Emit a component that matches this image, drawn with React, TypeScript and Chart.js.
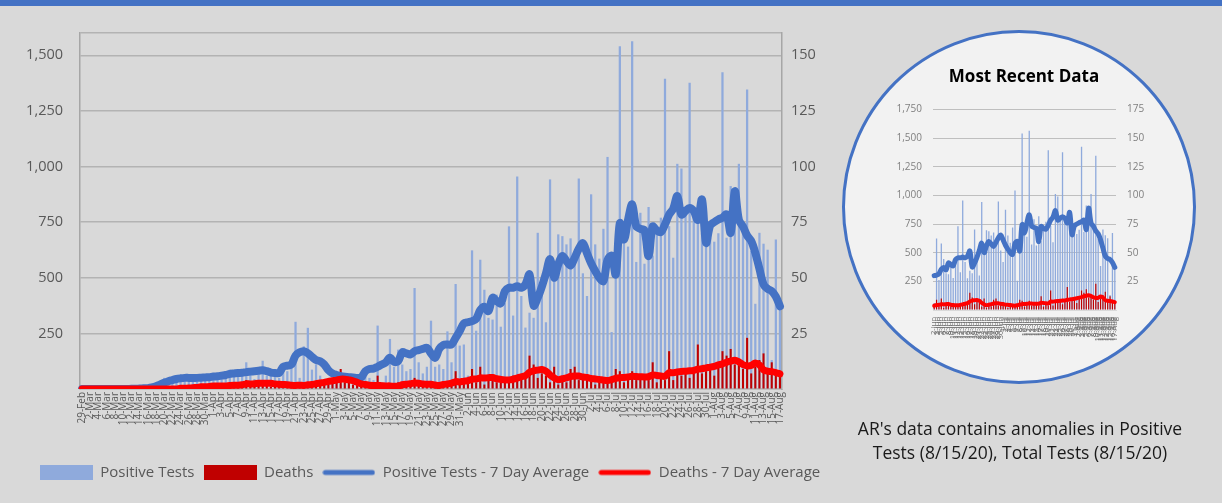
import React, { useEffect, useRef } from "react";
import { Chart, registerables } from "chart.js";

Chart.register(...registerables);

// ---------- categories ----------
const MONTH_SPANS: [string, number, number][] = [
  ["Feb", 29, 29],
  ["Mar", 1, 31],
  ["Apr", 1, 30],
  ["May", 1, 31],
  ["Jun", 1, 30],
  ["Jul", 1, 31],
  ["Aug", 1, 17],
];
const DATES: string[] = MONTH_SPANS.flatMap(([m, a, b]) =>
  Array.from({ length: b - a + 1 }, (_, k) => `${a + k}-${m}`)
);

// ---------- series (29-Feb .. 17-Aug) ----------
const POSITIVE_TESTS = [
  0, 0, 0, 0, 0, 0, 0, 0, 0, 0,
  0, 1, 5, 3, 3, 4, 6, 11, 13, 16,
  50, 22, 33, 30, 53, 62, 38, 45, 40, 50,
  47, 50, 60, 60, 58, 55, 87, 62, 64, 60,
  120, 70, 45, 65, 127, 60, 60, 55, 50, 90,
  80, 96, 302, 50, 192, 275, 87, 111, 60, 45,
  40, 30, 35, 25, 30, 40, 20, 30, 20, 55,
  50, 40, 285, 30, 60, 225, 100, 177, 110, 80,
  90, 454, 120, 70, 100, 307, 100, 110, 90, 259,
  120, 472, 195, 200, 60, 623, 262, 581, 446, 320,
  312, 424, 280, 386, 731, 330, 955, 418, 276, 343,
  320, 702, 433, 300, 942, 525, 695, 687, 650, 677,
  567, 946, 520, 418, 875, 650, 586, 720, 1043, 256,
  600, 1540, 740, 640, 1563, 571, 792, 563, 818, 600,
  700, 770, 1394, 732, 590, 1012, 991, 780, 1376, 784,
  750, 700, 650, 680, 662, 700, 1424, 680, 912, 880,
  1012, 700, 1346, 620, 383, 702, 653, 626, 130, 672,
  360,
];

const DEATHS = [
  0, 0, 0, 0, 0, 0, 0, 0, 0, 0,
  0, 0, 0, 0, 0, 0, 0, 0, 0, 0,
  0, 0, 0, 0, 1, 0, 1, 1, 1, 2,
  0, 2, 1, 2, 2, 1, 2, 2, 2, 2,
  4, 1, 3, 3, 3, 2, 1, 2, 1, 1,
  3, 2, 0, 2, 1, 3, 2, 3, 4, 3,
  3, 4, 5, 9, 3, 4, 2, 2, 1, 2,
  1, 2, 6, 1, 1, 1, 2, 3, 2, 1,
  3, 5, 2, 1, 2, 3, 1, 2, 2, 3,
  3, 8, 2, 4, 3, 9, 3, 10, 2, 4,
  5, 3, 3, 5, 4, 6, 5, 5, 6, 15,
  11, 5, 7, 6, 3, 10, 2, 5, 3, 9,
  10, 4, 5, 6, 4, 2, 4, 5, 3, 4,
  9, 8, 3, 5, 8, 4, 6, 5, 4, 12,
  3, 5, 4, 17, 4, 7, 6, 8, 5, 7,
  20, 7, 8, 9, 6, 10, 17, 15, 18, 11,
  12, 9, 23, 7, 10, 13, 16, 8, 12, 7,
  7,
];

const POSITIVE_AVG = [
  0, 0, 0, 0, 0, 0, 0, 0, 0, 0,
  0, 0, 1, 1, 2, 3, 4, 7, 12, 20,
  28, 35, 40, 45, 48, 50, 50, 50, 50, 51,
  52, 53, 56, 57, 60, 63, 68, 70, 72, 73,
  76, 78, 80, 82, 84, 80, 74, 72, 72, 100,
  105, 110, 150, 165, 170, 160, 145, 130, 125, 110,
  85, 70, 63, 58, 55, 53, 52, 50, 52, 80,
  90, 92, 100, 110, 120, 140, 122, 125, 165, 160,
  155, 170, 175, 180, 185, 160, 140, 180, 198, 200,
  200, 230, 260, 295, 300, 305, 315, 355, 370, 350,
  410, 395, 385, 440, 455, 455, 462, 455, 470, 515,
  375, 410, 460, 520, 583, 500, 560, 598, 575, 555,
  590, 630, 655, 610, 565, 530, 500, 485, 580, 598,
  515, 745, 672, 760, 830, 731, 720, 713, 597, 730,
  712, 705, 740, 784, 810, 867, 784, 800, 814, 800,
  760, 852, 657, 735, 750, 762, 770, 784, 702, 889,
  760, 730, 690, 665, 612, 540, 470, 450, 440, 415,
  372,
];

const DEATHS_AVG = [
  0, 0, 0, 0, 0, 0, 0, 0, 0, 0,
  0, 0, 0, 0, 0, 0, 0, 0, 0, 0,
  0, 0, 0, 0, 0.3, 0.3, 0.4, 0.6, 0.7, 1,
  1, 1.1, 1.3, 1.3, 1.4, 1.4, 1.6, 1.7, 1.7, 1.9,
  2.3, 2.3, 2.4, 2.6, 2.6, 2.6, 2.6, 2.3, 2.1, 2,
  1.9, 1.7, 1.6, 1.7, 1.6, 1.9, 2, 2.4, 2.7, 3,
  3.4, 3.7, 4, 4.4, 4.4, 4.1, 3.7, 3, 2.3, 2,
  1.7, 1.6, 1.6, 1.5, 1.4, 1.4, 1.2, 1.3, 1.9, 2.2,
  2.4, 2.7, 2.6, 2.3, 2.1, 2.1, 1.8, 1.6, 2, 2.3,
  2.6, 3.3, 3.2, 3.5, 3.7, 4.4, 4.5, 5, 4.9, 5.1,
  5.2, 4.6, 4.3, 4.1, 4.1, 4.4, 4.9, 5.5, 6, 7.5,
  8.2, 8.5, 8.8, 8, 6.3, 5, 4.2, 4.6, 5, 5.6,
  5.8, 5.8, 5.4, 5.2, 4.7, 4.5, 4.3, 4, 3.8, 4.2,
  4.8, 5.1, 5.2, 5.4, 5.7, 5.6, 5.5, 5.4, 5.5, 6.3,
  6.1, 5.9, 5.7, 7.3, 7.3, 7.7, 7.9, 8, 8.2, 8.3,
  8.9, 9.1, 9.5, 9.8, 10.2, 10.8, 11.3, 12, 12.5, 12.9,
  12.2, 11, 10.4, 10.6, 11.7, 10.8, 8.6, 8, 7.8, 7.4,
  6.8,
];

// ---------- axes ----------
const MAIN_LEFT_TICKS = [250, 500, 750, 1000, 1250, 1500];
const MAIN_LEFT_MAX = 1600;
const MAIN_RIGHT_TICKS = [25, 50, 75, 100, 125, 150];
const MAIN_RIGHT_MAX = 160;
const INSET_LEFT_TICKS = [250, 500, 750, 1000, 1250, 1500, 1750];
const INSET_RIGHT_TICKS = [25, 50, 75, 100, 125, 150, 175];
const INSET_START = 94; // 2-Jun

const FONT = "'Open Sans', 'Noto Sans', sans-serif";
const C_POS_BAR = "#8faadc";
const C_DEATH_BAR = "#c00000";
const C_POS_LINE = "#4472c4";
const C_DEATH_LINE = "#ff0000";
const C_TICK = "#595959";

function swatch(kind: "bar" | "line", color: string) {
  const c = document.createElement("canvas");
  c.width = 53;
  c.height = kind === "bar" ? 15 : 8;
  const ctx = c.getContext("2d")!;
  if (kind === "bar") {
    ctx.fillStyle = color;
    ctx.fillRect(0, 0, 53, 15);
  } else {
    ctx.strokeStyle = color;
    ctx.lineWidth = 5;
    ctx.lineCap = "round";
    ctx.beginPath();
    ctx.moveTo(3, 4);
    ctx.lineTo(50, 4);
    ctx.stroke();
  }
  return c;
}

function tickList(values: number[], max: number) {
  return [0, ...values, ...(values[values.length - 1] === max ? [] : [max])].map((v) => ({ value: v }));
}

function MainChart() {
  const ref = useRef<HTMLCanvasElement>(null);
  useEffect(() => {
    const swatches = [
      swatch("bar", C_POS_BAR),
      swatch("bar", C_DEATH_BAR),
      swatch("line", C_POS_LINE),
      swatch("line", C_DEATH_LINE),
    ];
    const chart = new Chart(ref.current!, {
      type: "bar",
      data: {
        labels: DATES,
        datasets: [
          {
            type: "bar",
            label: "Positive Tests",
            data: POSITIVE_TESTS,
            backgroundColor: C_POS_BAR,
            yAxisID: "y",
            order: 4,
            grouped: false,
            barPercentage: 0.55,
            categoryPercentage: 1,
          },
          {
            type: "bar",
            label: "Deaths",
            data: DEATHS,
            backgroundColor: C_DEATH_BAR,
            yAxisID: "y1",
            order: 3,
            grouped: false,
            barPercentage: 0.5,
            categoryPercentage: 1,
          },
          {
            type: "line",
            label: "Positive Tests - 7 Day Average",
            data: POSITIVE_AVG,
            borderColor: C_POS_LINE,
            backgroundColor: C_POS_LINE,
            borderWidth: 8,
            pointRadius: 0,
            tension: 0.35,
            borderCapStyle: "round",
            borderJoinStyle: "round",
            yAxisID: "y",
            order: 2,
          },
          {
            type: "line",
            label: "Deaths - 7 Day Average",
            data: DEATHS_AVG,
            borderColor: C_DEATH_LINE,
            backgroundColor: C_DEATH_LINE,
            borderWidth: 7,
            pointRadius: 0,
            tension: 0.35,
            borderCapStyle: "round",
            borderJoinStyle: "round",
            yAxisID: "y1",
            order: 1,
          },
        ],
      } as any,
      options: {
        responsive: false,
        animation: false,
        events: [],
        layout: { padding: { top: 33, bottom: 13, left: 0, right: 0 } },
        plugins: {
          tooltip: { enabled: false },
          legend: {
            position: "bottom",
            labels: {
              usePointStyle: true,
              pointStyleWidth: 53,
              padding: 9,
              color: C_TICK,
              font: { size: 15, family: FONT },
              sort: (a: any, b: any) => a.datasetIndex - b.datasetIndex,
              generateLabels: (ch: any) => {
                const items = (Chart.defaults.plugins.legend.labels as any).generateLabels(ch);
                items.forEach((it: any) => {
                  it.pointStyle = swatches[it.datasetIndex];
                  it.lineWidth = 0;
                });
                return items;
              },
            },
          },
        },
        scales: {
          x: {
            type: "category",
            offset: true,
            grid: { display: false, drawTicks: false },
            border: { display: true, color: "#bfbfbf", width: 1 },
            ticks: {
              autoSkip: false,
              minRotation: 90,
              maxRotation: 90,
              padding: 3,
              color: C_TICK,
              font: { size: 10, family: FONT },
              callback: (_v: any, i: number) => (i % 2 === 0 ? DATES[i] : ""),
            },
            afterFit: (s: any) => {
              s.height = 67;
            },
          },
          y: {
            position: "left",
            min: 0,
            max: MAIN_LEFT_MAX,
            afterBuildTicks: (s: any) => {
              s.ticks = tickList(MAIN_LEFT_TICKS, MAIN_LEFT_MAX);
            },
            grid: { color: "#b3b3b3", lineWidth: 1.5, drawTicks: false },
            border: { display: true, color: "#a6a6a6", width: 1.5 },
            ticks: {
              padding: 17,
              color: C_TICK,
              font: { size: 14.5, family: FONT },
              callback: (v: any) =>
                MAIN_LEFT_TICKS.includes(Number(v)) ? Number(v).toLocaleString("en-US") : "",
            },
            afterFit: (s: any) => {
              s.width = 80;
            },
          },
          y1: {
            position: "right",
            min: 0,
            max: MAIN_RIGHT_MAX,
            afterBuildTicks: (s: any) => {
              s.ticks = tickList(MAIN_RIGHT_TICKS, MAIN_RIGHT_MAX);
            },
            grid: { drawOnChartArea: false, drawTicks: false },
            border: { display: true, color: "#a6a6a6", width: 1.5 },
            ticks: {
              padding: 9,
              color: C_TICK,
              font: { size: 14.5, family: FONT },
              callback: (v: any) => (MAIN_RIGHT_TICKS.includes(Number(v)) ? String(v) : ""),
            },
            afterFit: (s: any) => {
              s.width = 78;
            },
          },
        },
      } as any,
    });
    return () => chart.destroy();
  }, []);
  return (
    <canvas
      ref={ref}
      width={860}
      height={503}
      style={{ position: "absolute", left: 0, top: 0, width: 860, height: 503 }}
    />
  );
}

function InsetChart() {
  const ref = useRef<HTMLCanvasElement>(null);
  useEffect(() => {
    const chart = new Chart(ref.current!, {
      type: "bar",
      data: {
        labels: DATES.slice(INSET_START),
        datasets: [
          {
            type: "bar",
            label: "Positive Tests",
            data: POSITIVE_TESTS.slice(INSET_START),
            backgroundColor: C_POS_BAR,
            yAxisID: "y",
            order: 4,
            grouped: false,
            barPercentage: 0.55,
            categoryPercentage: 1,
          },
          {
            type: "bar",
            label: "Deaths",
            data: DEATHS.slice(INSET_START),
            backgroundColor: C_DEATH_BAR,
            yAxisID: "y1",
            order: 3,
            grouped: false,
            barPercentage: 0.5,
            categoryPercentage: 1,
          },
          {
            type: "line",
            label: "Positive Tests - 7 Day Average",
            data: POSITIVE_AVG.slice(INSET_START),
            borderColor: C_POS_LINE,
            borderWidth: 5,
            pointRadius: 0,
            tension: 0.35,
            borderCapStyle: "round",
            borderJoinStyle: "round",
            yAxisID: "y",
            order: 2,
          },
          {
            type: "line",
            label: "Deaths - 7 Day Average",
            data: DEATHS_AVG.slice(INSET_START),
            borderColor: C_DEATH_LINE,
            borderWidth: 4,
            pointRadius: 0,
            tension: 0.35,
            borderCapStyle: "round",
            borderJoinStyle: "round",
            yAxisID: "y1",
            order: 1,
          },
        ],
      } as any,
      options: {
        responsive: false,
        animation: false,
        events: [],
        layout: { padding: 0 },
        plugins: {
          tooltip: { enabled: false },
          legend: { display: false },
          title: {
            display: true,
            text: "Most Recent Data",
            color: "#000000",
            font: { size: 17, weight: "bold", family: FONT, lineHeight: 1.2 },
            padding: { top: 12, bottom: 22 },
          },
        },
        scales: {
          x: {
            type: "category",
            offset: true,
            grid: { display: false, drawTicks: false },
            border: { display: true, color: "#d9d9d9", width: 1 },
            ticks: {
              autoSkip: false,
              minRotation: 90,
              maxRotation: 90,
              padding: 7,
              color: "#6f6f6f",
              font: { size: 7.5, family: FONT },
            },
            afterFit: (s: any) => {
              s.height = 60;
            },
          },
          y: {
            position: "left",
            min: 0,
            max: 1750,
            afterBuildTicks: (s: any) => {
              s.ticks = tickList(INSET_LEFT_TICKS, 1750);
            },
            grid: { color: "#bfbfbf", lineWidth: 1, drawTicks: false },
            border: { display: false },
            ticks: {
              padding: 11,
              color: "#808080",
              font: { size: 10, family: FONT },
              callback: (v: any) =>
                INSET_LEFT_TICKS.includes(Number(v)) ? Number(v).toLocaleString("en-US") : "",
            },
            afterFit: (s: any) => {
              s.width = 73;
            },
          },
          y1: {
            position: "right",
            min: 0,
            max: 175,
            afterBuildTicks: (s: any) => {
              s.ticks = tickList(INSET_RIGHT_TICKS, 175);
            },
            grid: { drawOnChartArea: false, drawTicks: false },
            border: { display: false },
            ticks: {
              padding: 11,
              color: "#808080",
              font: { size: 10, family: FONT },
              callback: (v: any) => (INSET_RIGHT_TICKS.includes(Number(v)) ? String(v) : ""),
            },
            afterFit: (s: any) => {
              s.width = 72;
            },
          },
        },
      } as any,
    });
    return () => chart.destroy();
  }, []);
  return (
    <canvas
      ref={ref}
      width={328}
      height={315}
      style={{ position: "absolute", left: 860, top: 55, width: 328, height: 315 }}
    />
  );
}

export default function App() {
  return (
    <div
      style={{
        position: "fixed",
        left: 0,
        top: 0,
        width: 1222,
        height: 503,
        background: "#d9d9d9",
        overflow: "hidden",
        fontFamily: FONT,
      }}
    >
      <div style={{ position: "absolute", left: 0, top: 0, width: 1222, height: 6, background: "#4472c4" }} />
      <MainChart />
      <div
        style={{
          position: "absolute",
          left: 842,
          top: 30,
          width: 354,
          height: 354,
          boxSizing: "border-box",
          borderRadius: "50%",
          border: "3px solid #4472c4",
          background: "#f2f2f2",
        }}
      />
      <InsetChart />
      <div
        style={{
          position: "absolute",
          left: 820,
          top: 416,
          width: 400,
          textAlign: "center",
          fontSize: 17.5,
          lineHeight: "24px",
          color: "#1a1a1a",
        }}
      >
        AR's data contains anomalies in Positive
        <br />
        Tests (8/15/20), Total Tests (8/15/20)
      </div>
    </div>
  );
}
